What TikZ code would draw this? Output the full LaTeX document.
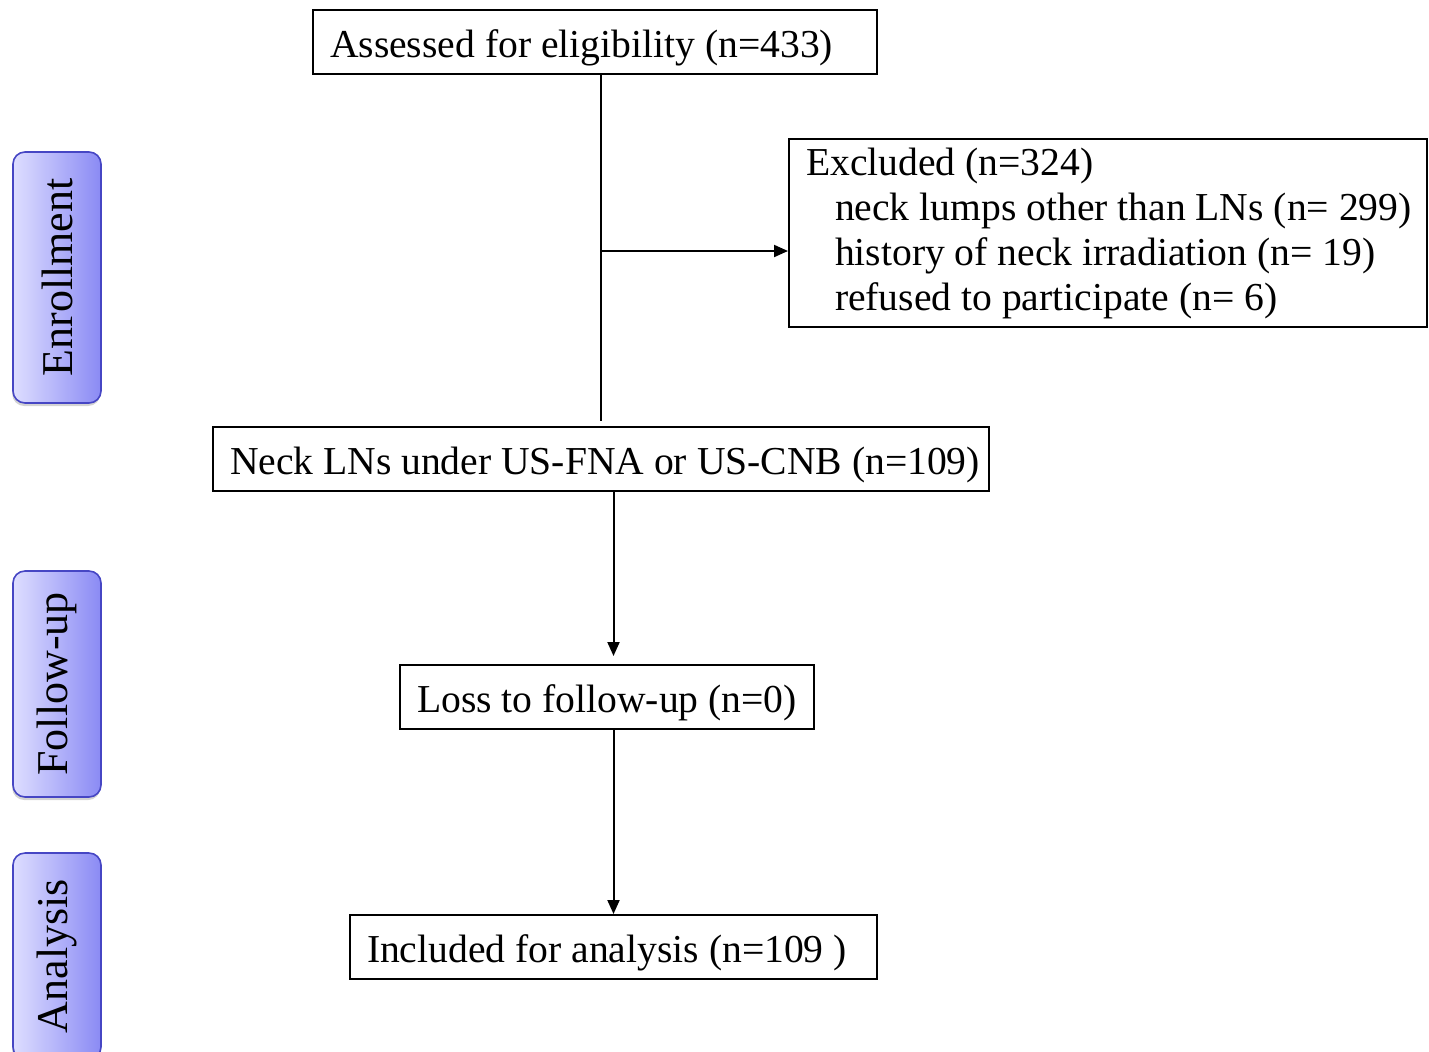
\documentclass[tikz,border=0pt]{standalone}
\usepackage{fontspec}
\setmainfont{Liberation Serif}
\usetikzlibrary{arrows.meta, positioning, shadows, calc}
\definecolor{phaseline}{HTML}{4646C4}
\definecolor{phaselight}{HTML}{DEDEFF}
\definecolor{phasedark}{HTML}{8A8AF4}

\begin{document}
\begin{tikzpicture}[x=0.5pt, y=-0.5pt,
    font=\fontsize{19.8}{22.5}\selectfont,
    box/.style={draw, line width=1pt, minimum height=32pt, inner xsep=8.5pt, inner ysep=0pt,
        align=flush left, text height=17pt, text depth=2pt},
    phase/.style={draw=phaseline, line width=0.8pt, rounded corners=6pt, rotate=90,
        left color=phaselight, right color=phasedark, minimum height=44pt,
        font=\fontsize{22}{24}\selectfont,
        drop shadow={shadow xshift=-0.4pt, shadow yshift=-1.5pt, opacity=0.35}},
    arr/.style={line width=1pt, -{Triangle[length=7pt, width=6pt]}}]
    \useasboundingbox (0,0) rectangle (1429,1051);
    % phases
    \node[phase, minimum width=125.5pt] (enroll) at (57,277.5) {Enrollment};
    \node[phase, minimum width=113pt] (follow) at (57,684) {Follow-up};
    \node[phase, minimum width=103pt] (analysis) at (57,956) {Analysis};
    % boxes
    \node[box, text width=265pt] (assess) at (595,42) {Assessed for eligibility (n=433)};
    \node[box, text width=305pt, inner xsep=7pt, minimum height=94pt, text height=, text depth=] (excl) at (1108,233)
        {\hspace*{1.5pt}Excluded (n=324)\\
        \hspace*{16pt}neck lumps other than LNs (n= 299)\\
        \hspace*{16pt}history of neck irradiation (n= 19)\\
        \hspace*{16pt}refused to participate (n= 6)};
    \node[box, text width=379pt, inner xsep=4.5pt] (neck) at (601,459) {\hspace*{4pt}Neck LNs under US-FNA or US-CNB (n=109)};
    \node[box, text width=190pt] (loss) at (607,697) {Loss to follow-up (n=0)};
    \node[box, text width=246.5pt] (incl) at (613.5,947) {Included for analysis (n=109 )};
    % connectors
    \coordinate (top) at (assess.south -| neck.north);
    \coordinate (branch) at (601,251);
    \draw[line width=1pt] (top) -- ([yshift=2.5pt]neck.north);
    \draw[arr] (branch) -- (branch -| excl.west);
    \draw[arr, shorten >=4pt] (neck.south -| incl.north) -- (loss.north -| incl.north);
    \draw[arr] (loss.south -| incl.north) -- (incl.north);
\end{tikzpicture}
\end{document}
